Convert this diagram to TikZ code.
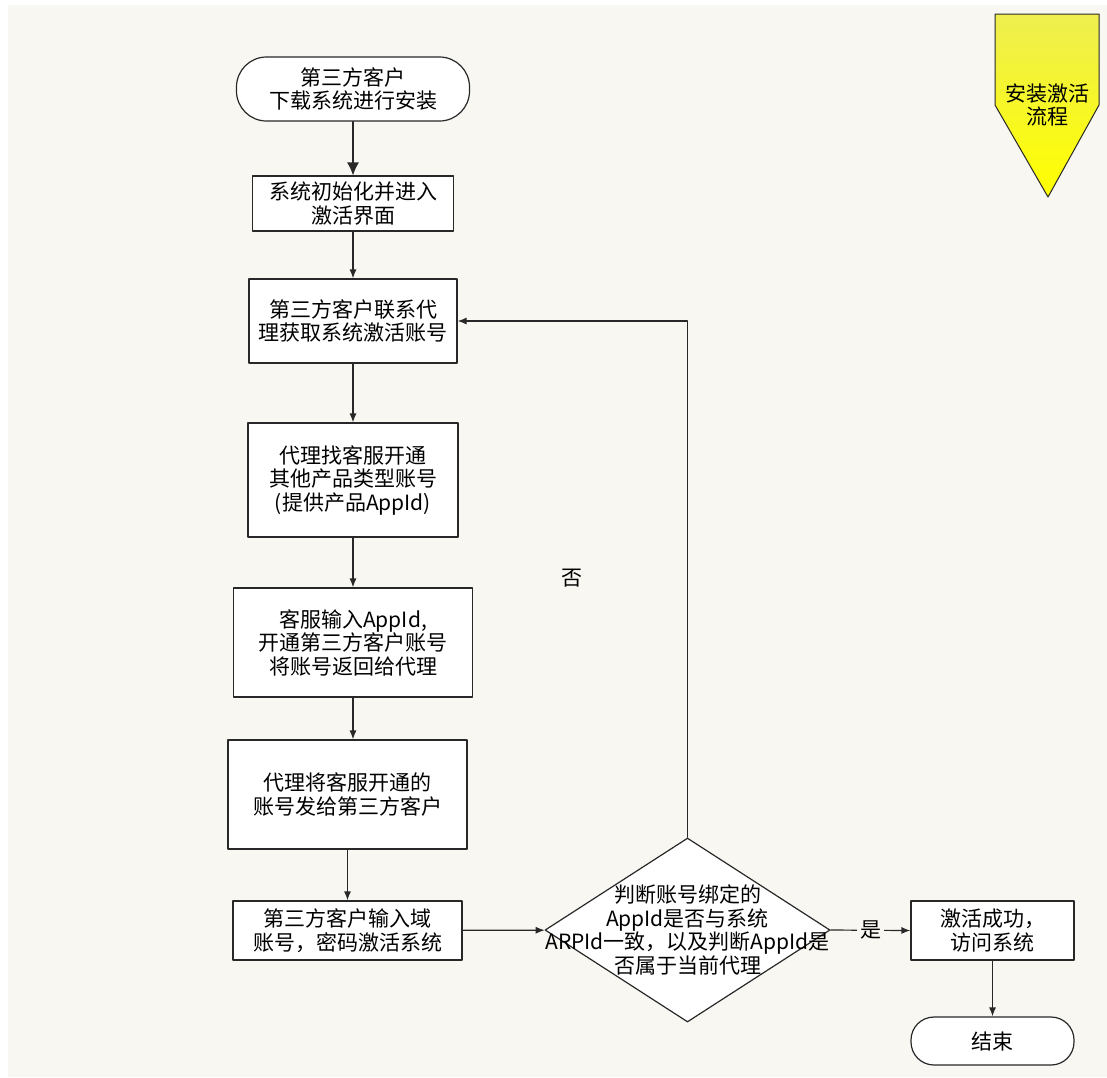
\documentclass[tikz,border=0pt]{standalone}
\usepackage{fontspec}
\usetikzlibrary{arrows.meta,shapes.geometric}
\newfontfamily\cjk{Noto Sans CJK SC}
\newcommand\flowfont{\cjk\fontsize{21}{23.5}\selectfont}
\definecolor{bgbeige}{RGB}{249,247,241}
\definecolor{linegray}{RGB}{40,40,40}
\definecolor{titletop}{RGB}{238,238,80}
\definecolor{titlebottom}{RGB}{255,255,0}
\begin{document}
\begin{tikzpicture}[x=1pt,y=-1pt,line cap=round,line join=round,
  txt/.style={align=center,inner sep=0pt,font=\flowfont},
  box/.style={txt,draw=linegray,line width=1.2pt,fill=white},
  decision/.style={diamond,draw=linegray,line width=1.2pt,fill=white,inner sep=0pt,
    minimum width=285pt,minimum height=184pt},
  flow/.style={draw=linegray,line width=1.2pt,-{Latex[length=9pt,width=7pt]}}]
  \useasboundingbox (0,0) rectangle (1107,1077);
  \fill[bgbeige] (8,5) rectangle (1107,1077);
  \draw[line width=1pt,draw=linegray,top color=titletop,bottom color=titlebottom]
    (995,14) -- (1099,14) -- (1099,105) -- (1048,197) -- (995,105) -- cycle;
  \node[txt] (title) at (1047,105) {安装激活\\流程};
  \node[box,rounded corners=30pt,minimum width=233pt,minimum height=64pt] (start) at (353,89) {第三方客户\\下载系统进行安装};
  \node[box,minimum width=201pt,minimum height=55pt] (init) at (353,203.5) {系统初始化并进入\\激活界面};
  \node[box,minimum width=208pt,minimum height=84pt] (contact) at (353,321) {第三方客户联系代\\理获取系统激活账号};
  \node[box,minimum width=210pt,minimum height=114pt] (agent) at (353,480) {代理找客服开通\\其他产品类型账号\\(提供产品AppId)};
  \node[box,minimum width=239pt,minimum height=109pt] (service) at (353,642.5) {客服输入AppId,\\开通第三方客户账号\\将账号返回给代理};
  \node[box,minimum width=239pt,minimum height=109pt] (send) at (347.5,794.5) {代理将客服开通的\\账号发给第三方客户};
  \node[box,minimum width=229pt,minimum height=59pt] (input) at (347.5,930.5) {第三方客户输入域\\账号，密码激活系统};
  \node[decision] (check) at (687.5,930) {};
  \node[txt] (checktext) at (check) {判断账号绑定的\\AppId是否与系统\\ARPId一致，以及判断AppId是\\否属于当前代理};
  \node[box,minimum width=163pt,minimum height=59pt] (ok) at (992.5,930.5) {激活成功，\\访问系统};
  \node[box,rounded corners=23pt,minimum width=163pt,minimum height=48pt] (end) at (992.5,1041) {结束};
  \node[txt] (no) at (572,578) {否};
  \draw[flow,-{Latex[length=13pt,width=12pt]}] (start) -- (init);
  \draw[flow] (init) -- (contact);
  \draw[flow] (contact) -- (agent);
  \draw[flow] (agent) -- (service);
  \draw[flow] (service.south) -- (service.south |- send.north);
  \draw[flow] (send) -- (input);
  \draw[flow] (input) -- (check);
  \draw[flow] (check.north) |- (contact.east);
  \draw[flow] (check.east) -- node[txt,fill=bgbeige,inner xsep=3pt] (yes) {是} (ok.west);
  \draw[flow] (ok) -- (end);
\end{tikzpicture}
\end{document}
